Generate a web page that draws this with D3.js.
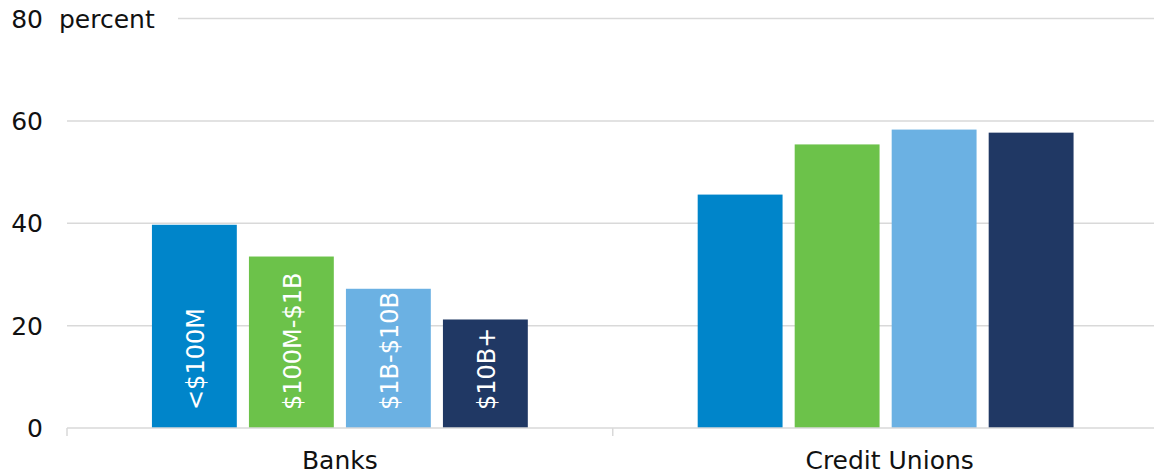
<!DOCTYPE html>
<html>
<head>
<meta charset="utf-8">
<script src="https://cdn.jsdelivr.net/npm/d3@7"></script>
<style>
  html, body { margin: 0; padding: 0; background: #fff; }
  svg { display: block; font-family: "DejaVu Sans", sans-serif; }
</style>
</head>
<body>
<svg id="chart" width="1154" height="475"></svg>
<script>
// Institution types along the x axis
const categories = ["Banks", "Credit Unions"];
// Asset-size groups within each institution type
const sizeGroups = ["<$100M", "$100M-$1B", "$1B-$10B", "$10B+"];
// Share (percent) for each size group, per institution type
const banksValues = [39.7, 33.5, 27.2, 21.2];
const creditUnionValues = [45.6, 55.4, 58.3, 57.7];
// Y axis ticks
const yTicks = [0, 20, 40, 60, 80];
const groupColors = ["#0085ca", "#6cc24a", "#6bb1e3", "#203864"];

const seriesByCategory = [banksValues, creditUnionValues];

const svg = d3.select("#chart");
const W = 1154, H = 475;
const margin = { left: 67, right: -4.5, top: 18.5, bottom: 47 };

const y = d3.scaleLinear().domain([0, 80]).range([H - margin.bottom, margin.top]);
const x0 = d3.scaleBand().domain(categories).range([margin.left, W - margin.right]).paddingInner(0).paddingOuter(0);
const x1 = d3.scaleBand().domain(sizeGroups).range([0, 388]).paddingInner(0.125).paddingOuter(0.0625);

// Gridlines
const grid = svg.append("g");
grid.selectAll("line").data(yTicks.filter(d => d > 0)).join("line")
  .attr("x1", d => d === 80 ? 178 : margin.left)
  .attr("x2", W)
  .attr("y1", d => y(d)).attr("y2", d => y(d))
  .attr("stroke", "#d9d9d9").attr("stroke-width", 1.5);

// Y tick labels
svg.append("g").selectAll("text").data(yTicks).join("text")
  .attr("x", 43).attr("y", d => y(d))
  .attr("dy", "0.36em")
  .attr("text-anchor", "end")
  .attr("font-size", 25)
  .attr("fill", "#111")
  .text(d => d);

svg.append("text")
  .attr("x", 59).attr("y", y(80)).attr("dy", "0.36em")
  .attr("font-size", 25).attr("fill", "#111")
  .text("percent");

// Bars
const groups = svg.append("g").selectAll("g").data(categories).join("g")
  .attr("transform", (d) => {
    const c = x0(d) + x0.bandwidth() / 2;
    return `translate(${c - 194},0)`;
  });

groups.each(function(cat, ci) {
  const g = d3.select(this);
  const vals = seriesByCategory[ci];
  g.selectAll("rect").data(vals).join("rect")
    .attr("x", (d, i) => x1(sizeGroups[i]))
    .attr("width", x1.bandwidth())
    .attr("y", d => y(d))
    .attr("height", d => y(0) - y(d))
    .attr("fill", (d, i) => groupColors[i]);
  if (ci === 0) {
    g.selectAll("text.lbl").data(sizeGroups).join("text")
      .attr("class", "lbl")
      .attr("transform", d => `translate(${x1(d) + x1.bandwidth() / 2 + 1},${y(0) - 18}) rotate(-90)`)
      .attr("dy", "0.36em")
      .attr("font-size", 24)
      .attr("fill", "#fff")
      .text(d => d);
  }
});

// X axis baseline and ticks
const axisY = y(0);
svg.append("line")
  .attr("x1", margin.left).attr("x2", W)
  .attr("y1", axisY).attr("y2", axisY)
  .attr("stroke", "#d9d9d9").attr("stroke-width", 1.5);
const boundaries = [x0(categories[0]), x0(categories[1])];
svg.append("g").selectAll("line").data(boundaries).join("line")
  .attr("x1", d => d).attr("x2", d => d)
  .attr("y1", axisY).attr("y2", axisY + 8)
  .attr("stroke", "#d9d9d9").attr("stroke-width", 1.5);

// Category labels
svg.append("g").selectAll("text").data(categories).join("text")
  .attr("x", d => x0(d) + x0.bandwidth() / 2 + (d === "Banks" ? 0 : 4))
  .attr("y", 469)
  .attr("text-anchor", "middle")
  .attr("font-size", 25)
  .attr("fill", "#111")
  .text(d => d);
</script>
</body>
</html>
